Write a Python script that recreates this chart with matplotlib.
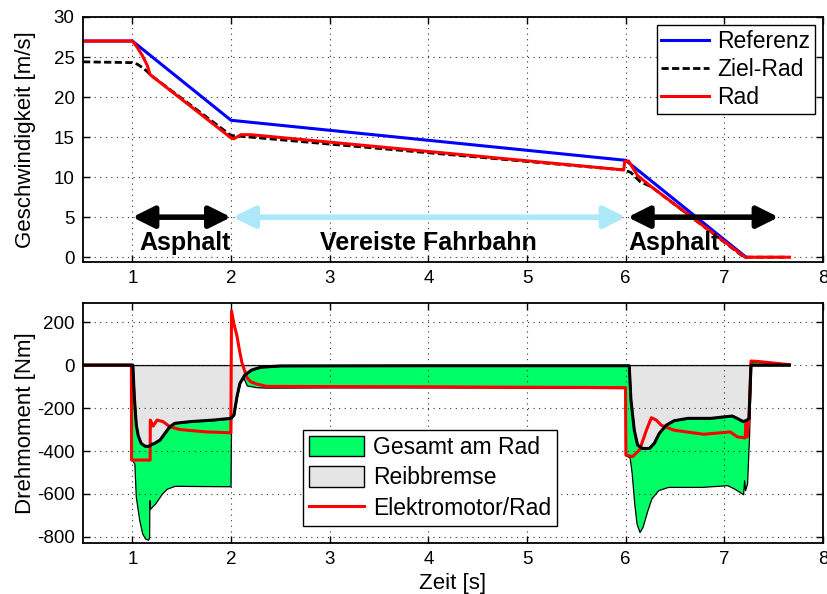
import matplotlib
matplotlib.use("Agg")
import matplotlib.pyplot as plt
from matplotlib.patches import Patch
from matplotlib.lines import Line2D

plt.rcParams['font.family'] = ['Liberation Sans', 'DejaVu Sans']
plt.rcParams['axes.unicode_minus'] = False

# --- Geschwindigkeit ---
t_ref = [0.5, 1.0, 2.0, 6.0, 7.22]
v_ref = [27.0, 27.0, 17.1, 12.1, 0.0]

t_ziel = [0.5, 1.0, 1.05, 1.1, 1.15, 1.18, 2.0, 2.1, 5.98, 6.05, 6.15, 6.26, 7.2, 7.65]
v_ziel = [24.4, 24.3, 24.1, 23.7, 23.2, 22.8, 15.2, 15.1, 10.9, 10.6, 9.4, 8.8, 0.0, 0.0]

t_rad = [0.5, 1.0, 1.05, 1.1, 1.15, 1.18, 2.0, 2.03, 2.1, 2.2, 5.98, 5.99, 6.03, 6.12, 6.26, 7.21, 7.66]
v_rad = [27.0, 27.0, 26.2, 25.2, 24.0, 22.8, 14.9, 14.8, 15.3, 15.3, 10.9, 12.0, 12.0, 10.2, 8.8, 0.0, 0.0]

# --- Drehmoment ---
t_ges = [0.5, 0.99, 0.995, 1.02, 1.035, 1.07, 1.1, 1.13, 1.16, 1.17, 1.172, 1.18, 1.23,
         1.3, 1.35, 1.43, 1.7, 1.995, 2.005, 2.06, 2.11, 2.16, 2.26, 2.36, 3.0, 4.0, 5.0,
         5.995, 6.0, 6.04, 6.06, 6.087, 6.11, 6.14, 6.17, 6.22, 6.26, 6.33, 6.43, 6.77,
         7.03, 7.1, 7.19, 7.2, 7.21, 7.23, 7.25, 7.27, 7.36, 7.53, 7.66]
m_ges = [0, 0, -442, -458, -613, -722, -784, -808, -813, -800, -629, -668, -645,
         -598, -575, -562, -563, -564, 0, -11, -43, -95, -103, -105, -104, -104, -105,
         -107, -420, -430, -500, -645, -738, -777, -754, -676, -621, -582, -567, -567,
         -559, -575, -601, -536, -582, -551, -333, 15, 16, 8, 0]

t_reib = [0.5, 1.005, 1.02, 1.04, 1.06, 1.09, 1.13, 1.17, 1.2, 1.22, 1.28, 1.33, 1.38,
          1.43, 1.59, 1.82, 2.0, 2.03, 2.06, 2.09, 2.14, 2.21, 2.3, 2.5, 4.0, 6.0, 6.036,
          6.053, 6.087, 6.12, 6.17, 6.24, 6.29, 6.34, 6.41, 6.49, 6.63, 6.86, 7.08, 7.13,
          7.19, 7.23, 7.25, 7.27, 7.66]
m_reib = [0, 0, -150, -280, -330, -365, -378, -378, -368, -366, -349, -318, -287,
          -271, -263, -256, -248, -232, -147, -85, -46, -23, -10, -4, -3, -3, -3,
          -162, -303, -372, -388, -388, -364, -318, -280, -259, -248, -248, -237, -248,
          -263, -256, -248, 0, 0]

t_mot = [0.5, 0.99, 0.992, 1.18, 1.182, 1.21, 1.25, 1.31, 1.38, 1.48, 1.75, 1.998,
         2.005, 2.03, 2.06, 2.085, 2.11, 2.16, 2.2, 2.26, 2.36, 3.0, 4.0, 5.0, 5.998,
         6.002, 6.07, 6.14, 6.21, 6.26, 6.31, 6.36, 6.49, 6.79, 7.06, 7.13, 7.21, 7.22,
         7.23, 7.25, 7.27, 7.36, 7.53, 7.66]
m_mot = [0, 0, -442, -442, -256, -284, -256, -263, -287, -300, -311, -315,
         252, 190, 136, 70, 12, -57, -78, -88, -99, -100, -101, -103, -105,
         -419, -426, -395, -303, -245, -256, -280, -303, -322, -311, -334, -339, -272,
         -334, -240, 19, 16, 8, 2]

x_ticks = [1, 2, 3, 4, 5, 6, 7, 8]
green = '#00ff66'
grau = '#e5e5e5'
hellblau = '#aae8fa'

fig = plt.figure(figsize=(8.27, 5.94), dpi=100)
ax1 = fig.add_axes([0.1004, 0.5589, 0.8948, 0.4125])
ax2 = fig.add_axes([0.1004, 0.0859, 0.8948, 0.4040])


def style(ax):
    ax.set_xlim(0.5, 8)
    ax.set_xticks(x_ticks)
    ax.grid(True, color='0.2', linestyle=(0, (1, 4)), linewidth=0.8)
    ax.tick_params(direction='in', top=True, right=True, length=5, width=1,
                   labelsize=13.5, pad=6)
    for s in ax.spines.values():
        s.set_linewidth(1.3)


# oben
ax1.plot(t_ref, v_ref, color='#0000ff', lw=2.2, label='Referenz')
ax1.plot(t_ziel, v_ziel, color='k', lw=2.0, dashes=(2.6, 1.2), label='Ziel-Rad')
ax1.plot(t_rad, v_rad, color='#ff0000', lw=2.2, label='Rad')
style(ax1)
ax1.set_ylim(-0.6, 30)
ax1.set_yticks([0, 5, 10, 15, 20, 25, 30])
ax1.set_ylabel('Geschwindigkeit [m/s]', fontsize=16)
ax1.yaxis.set_label_coords(-0.064, 0.5)
ax1.legend(loc='upper right', bbox_to_anchor=(0.989, 0.967), borderaxespad=0,
           fontsize=16.5, frameon=True, fancybox=False, edgecolor='k', framealpha=1,
           handlelength=2.1, handletextpad=0.35, labelspacing=0.23, borderpad=0.2)
ax1.get_legend().get_frame().set_linewidth(1.0)

arrow_style = '<|-|>,head_length=1.3,head_width=0.65'
for (x0, x1), col in [((1.0, 2.0), 'k'), ((2.02, 6.0), hellblau), ((6.02, 7.55), 'k')]:
    ax1.annotate('', xy=(x1, 5), xytext=(x0, 5),
                 arrowprops=dict(arrowstyle=arrow_style, color=col, lw=4,
                                 mutation_scale=10, shrinkA=0, shrinkB=0))
ax1.text(1.53, 0.88, 'Asphalt', fontsize=18, fontweight='bold', ha='center', va='baseline')
ax1.text(4.0, 0.88, 'Vereiste Fahrbahn', fontsize=18, fontweight='bold', ha='center', va='baseline')
ax1.text(6.49, 0.88, 'Asphalt', fontsize=18, fontweight='bold', ha='center', va='baseline')

# unten
ax2.fill_between(t_ges, m_ges, 0, facecolor=green, edgecolor='k', lw=0.9)
ax2.fill_between(t_reib, m_reib, 0, facecolor=grau, edgecolor='k', lw=0.9)
ax2.plot(t_mot, m_mot, color='#ff0000', lw=2.2)
ax2.plot(t_reib, m_reib, color='k', lw=2.2)
style(ax2)
ax2.set_ylim(-828, 289)
ax2.set_yticks([-800, -600, -400, -200, 0, 200])
ax2.set_ylabel('Drehmoment [Nm]', fontsize=16)
ax2.yaxis.set_label_coords(-0.064, 0.5)
ax2.set_xlabel('Zeit [s]', fontsize=16)
ax2.xaxis.set_label_coords(0.5, -0.125)

handles = [Patch(facecolor=green, edgecolor='k', lw=1.0),
           Patch(facecolor=grau, edgecolor='k', lw=1.0),
           Line2D([], [], color='#ff0000', lw=2.2)]
leg = ax2.legend(handles, ['Gesamt am Rad', 'Reibbremse', 'Elektromotor/Rad'],
                 loc='upper left', bbox_to_anchor=(0.297, 0.471), borderaxespad=0,
                 fontsize=16.5, fancybox=False, edgecolor='k', framealpha=1,
                 handlelength=2.4, handleheight=1.0, handletextpad=0.4,
                 labelspacing=0.33, borderpad=0.25)
leg.get_frame().set_linewidth(1.0)

fig.savefig('out.png', dpi=100)
